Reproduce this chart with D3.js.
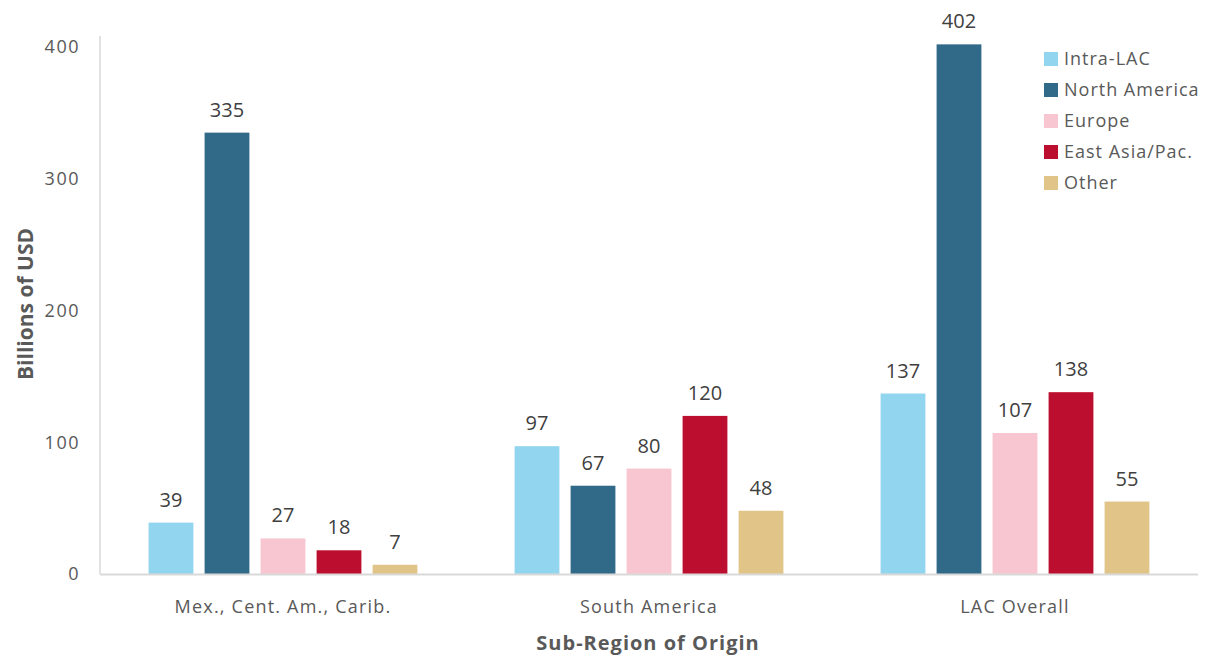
<!DOCTYPE html>
<html><head><meta charset="utf-8">
<script src="https://cdn.jsdelivr.net/npm/d3@7"></script>
<style>body{margin:0;background:#fff;} svg{display:block;}</style>
</head><body><svg id="c" width="1207" height="656"></svg>
<script>
const categories = ["Mex., Cent. Am., Carib.", "South America", "LAC Overall"];
const seriesNames = ["Intra-LAC", "North America", "Europe", "East Asia/Pac.", "Other"];
const intraLAC = [39, 97, 137];
const northAmerica = [335, 67, 402];
const europe = [27, 80, 107];
const eastAsia = [18, 120, 138];
const other = [7, 48, 55];
const yTicks = [0, 100, 200, 300, 400];
const colors = ["#92D5EE", "#306A88", "#F8C6D0", "#BC0F2F", "#E1C488"];

const seriesValues = [intraLAC, northAmerica, europe, eastAsia, other];
const svg = d3.select("#c");
const font = "'Open Sans', 'Noto Sans', sans-serif";
const x0 = d3.scaleBand().domain(categories).range([100, 1198]).paddingInner(0.235).paddingOuter(0.1175);
const x1 = d3.scaleBand().domain(seriesNames).range([0, x0.bandwidth()]).paddingInner(0.2).paddingOuter(0.1);
const y = d3.scaleLinear().domain([0, 400]).range([574, 47]);

// y axis line
svg.append("line").attr("x1", 100).attr("x2", 100).attr("y1", 36).attr("y2", 574)
  .attr("stroke", "#d9d9d9").attr("stroke-width", 1.5);

// tick labels
svg.selectAll(".yt").data(yTicks).enter().append("text")
  .attr("x", 80).attr("y", d => y(d)).attr("dy", "0.35em")
  .attr("text-anchor", "end").attr("fill", "#595959")
  .style("font-family", font).style("font-size", "18px").style("letter-spacing", "1.5px").text(d => d);

// bars
categories.forEach((cat, ci) => {
  seriesNames.forEach((s, si) => {
    const v = seriesValues[si][ci];
    const bx = x0(cat) + x1(s);
    svg.append("rect").attr("x", bx).attr("y", y(v)).attr("width", x1.bandwidth())
      .attr("height", y(0) - y(v)).attr("fill", colors[si]);
    svg.append("text").attr("x", bx + x1.bandwidth() / 2).attr("y", y(v) - 16)
      .attr("text-anchor", "middle").attr("fill", "#404040")
      .style("font-family", font).style("font-size", "20px").text(v);
  });
});

// x axis line
svg.append("line").attr("x1", 100).attr("x2", 1198).attr("y1", 574.5).attr("y2", 574.5)
  .attr("stroke", "#d9d9d9").attr("stroke-width", 2);

// category labels
svg.selectAll(".xl").data(categories).enter().append("text")
  .attr("x", d => x0(d) + x0.bandwidth() / 2).attr("y", 613)
  .attr("text-anchor", "middle").attr("fill", "#595959")
  .style("font-family", font).style("font-size", "18px").style("letter-spacing", "1.2px").text(d => d);

// axis titles
svg.append("text").attr("x", 648).attr("y", 650).attr("text-anchor", "middle")
  .attr("fill", "#595959").style("font-family", font).style("font-size", "20px")
  .style("font-weight", "bold").style("letter-spacing", "1px").text("Sub-Region of Origin");
svg.append("text").attr("transform", "translate(33,304) rotate(-90)").attr("text-anchor", "middle")
  .attr("fill", "#595959").style("font-family", font).style("font-size", "21px")
  .style("font-weight", "bold").text("Billions of USD");

// legend
const lg = svg.append("g");
seriesNames.forEach((s, i) => {
  const ly = 59 + i * 31;
  lg.append("rect").attr("x", 1044).attr("y", ly - 7).attr("width", 14).attr("height", 14).attr("fill", colors[i]);
  lg.append("text").attr("x", 1064).attr("y", ly).attr("dy", "0.35em").attr("fill", "#595959")
    .style("font-family", font).style("font-size", "18px").style("letter-spacing", "1px").text(s);
});
</script></body></html>
